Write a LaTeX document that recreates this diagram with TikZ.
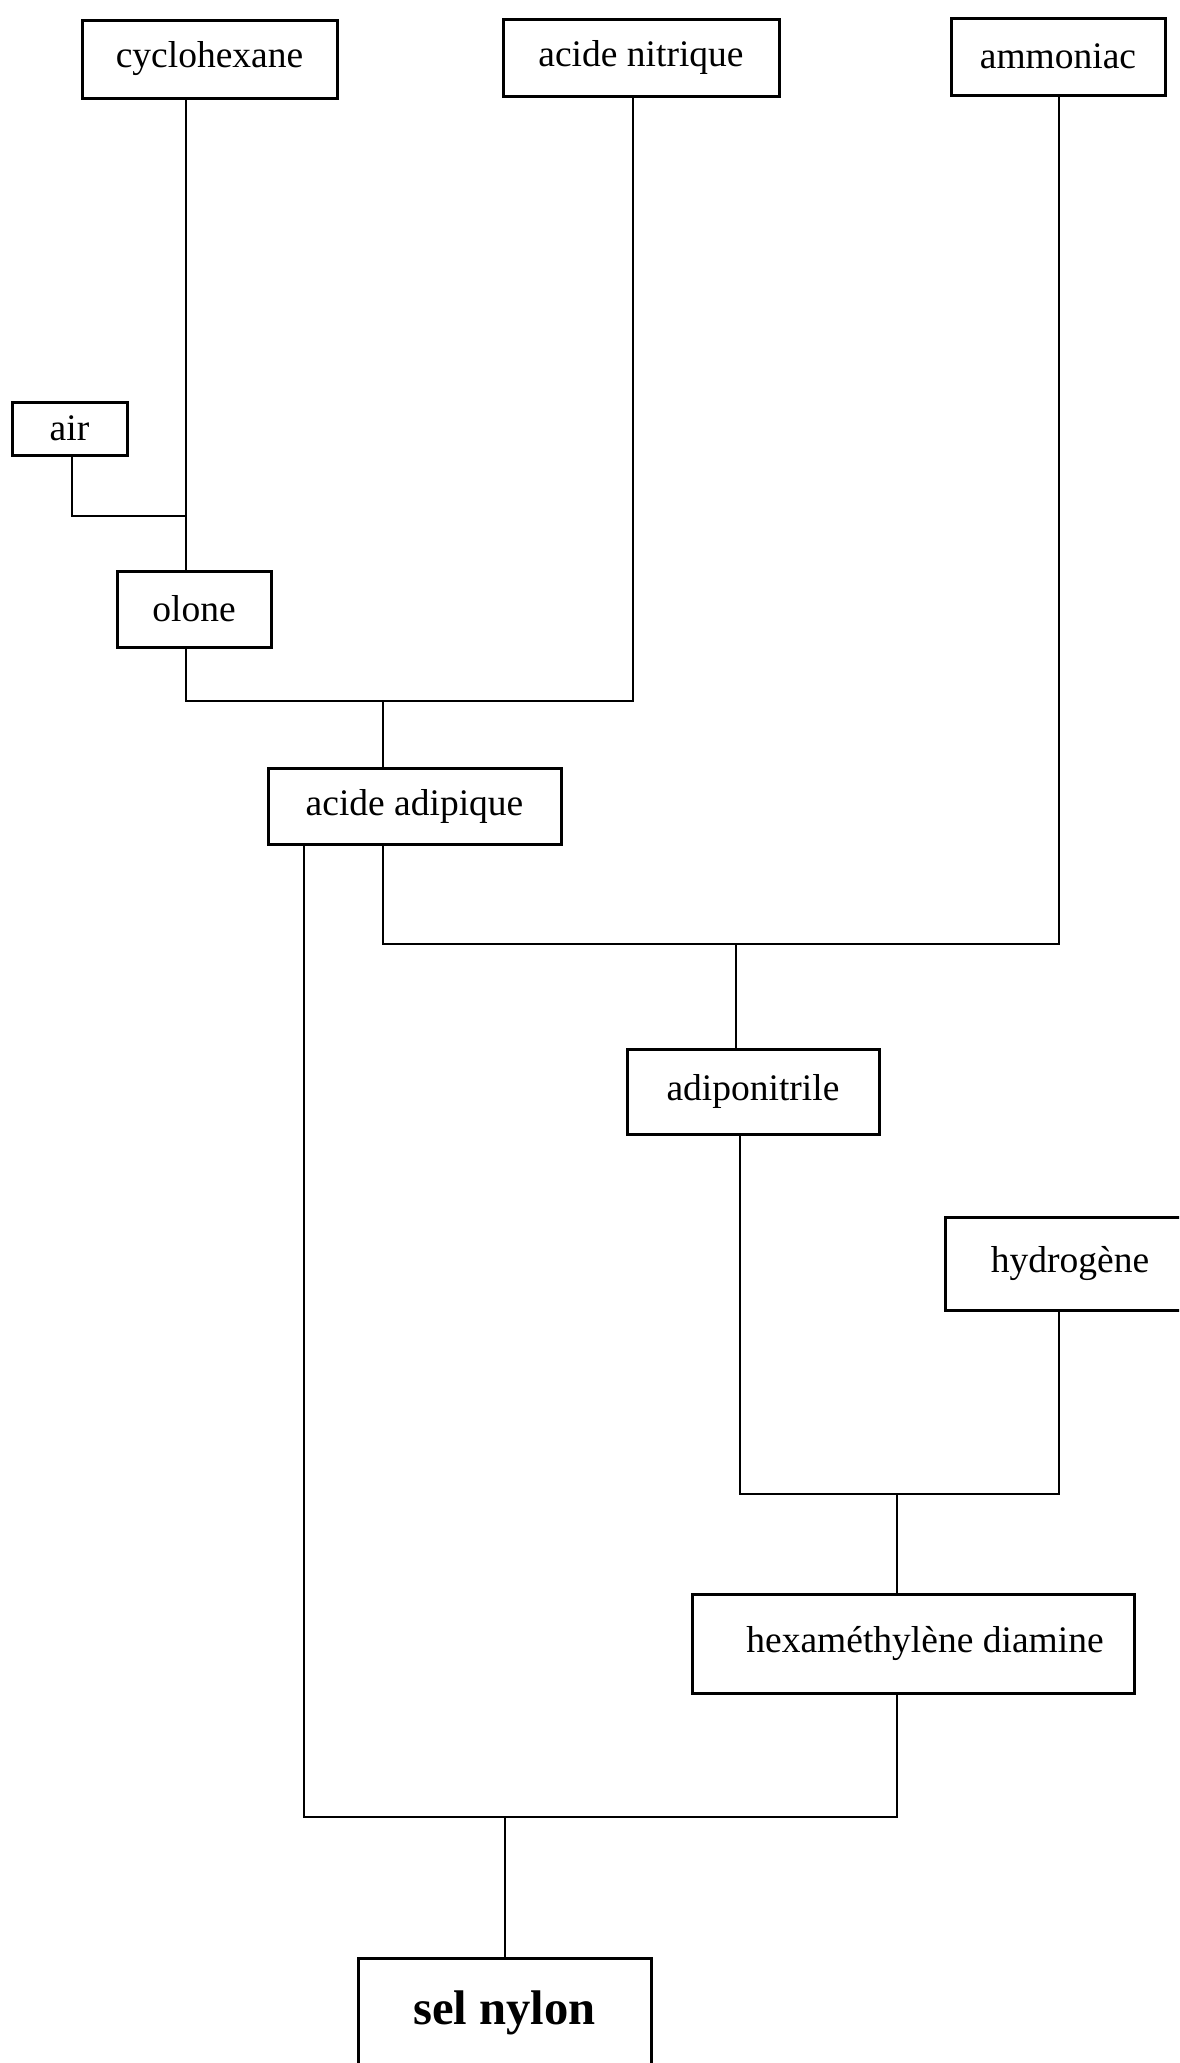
\documentclass[tikz,border=0pt]{standalone}
\usepackage{fontspec}
\setmainfont{Liberation Serif}
\begin{document}
\begin{tikzpicture}[x=0.5pt,y=-0.5pt,
  box/.style={draw, line width=1.5pt, inner sep=0pt, font=\fontsize{18.75}{22}\selectfont},
  link/.style={line width=1.35pt, line join=miter}]
\useasboundingbox (0,0) rectangle (1179,2063);
\clip (0,0) rectangle (1179,2063);
% boxes
\node[box, minimum width=127.5pt, minimum height=39pt]   (cyc)   at (209.5,59)   {cyclohexane};
\node[box, minimum width=138pt,   minimum height=38.5pt] (nit)   at (641,57.5)   {acide nitrique};
\node[box, minimum width=107pt,   minimum height=38.5pt] (amm)   at (1058,56.5)  {ammoniac};
\node[box, minimum width=57.5pt,  minimum height=26.5pt] (air)   at (69.5,428.5) {air};
\node[box, minimum width=77pt,    minimum height=38pt]   (olone) at (194,609)    {olone};
\node[box, minimum width=146.5pt, minimum height=38pt]   (adip)  at (414.5,806)  {acide adipique};
\node[box, minimum width=126pt,   minimum height=42.5pt] (adn)   at (753,1091.5) {adiponitrile};
\node[box, minimum width=125pt,   minimum height=46.5pt] (hyd)   at (1070,1263.5){hydrogène};
\node[box, minimum width=221pt,   minimum height=49.5pt] (hmd)   at (913,1643.5) {\hspace*{12pt}hexaméthylène diamine};
\node[box, minimum width=146.5pt, minimum height=55pt, font=\fontsize{24.3}{28}\selectfont\bfseries] (sel) at (504.5,2013) {sel nylon};
% helper coordinates
\coordinate (xair) at (72,0);
\coordinate (xcyc) at (186,0);
\coordinate (xnit) at (633,0);
\coordinate (xj1)  at (383,0);
\coordinate (xal)  at (304,0);
\coordinate (xamm) at (1059,0);
\coordinate (xj2)  at (736,0);
\coordinate (xadn) at (740,0);
\coordinate (xj3)  at (897,0);
\coordinate (xj4)  at (505,0);
\coordinate (yair) at (0,516);
\coordinate (yA)   at (0,701);
\coordinate (yB)   at (0,944);
\coordinate (yC)   at (0,1494);
\coordinate (yD)   at (0,1817);
% connectors
\draw[link] (xair |- air.south) -- (xair |- yair) -- (xcyc |- yair);
\draw[link] (xcyc |- cyc.south) -- (xcyc |- olone.north);
\draw[link] (xcyc |- olone.south) -- (xcyc |- yA) -- (xnit |- yA) -- (xnit |- nit.south);
\draw[link] (xj1 |- yA) -- (xj1 |- adip.north);
\draw[link] (xj1 |- adip.south) -- (xj1 |- yB) -- (xamm |- yB) -- (xamm |- amm.south);
\draw[link] (xj2 |- yB) -- (xj2 |- adn.north);
\draw[link] (xadn |- adn.south) -- (xadn |- yC) -- (xamm |- yC) -- (xamm |- hyd.south);
\draw[link] (xj3 |- yC) -- (xj3 |- hmd.north);
\draw[link] (xj3 |- hmd.south) -- (xj3 |- yD) -- (xal |- yD) -- (xal |- adip.south);
\draw[link] (xj4 |- yD) -- (xj4 |- sel.north);
\end{tikzpicture}
\end{document}
